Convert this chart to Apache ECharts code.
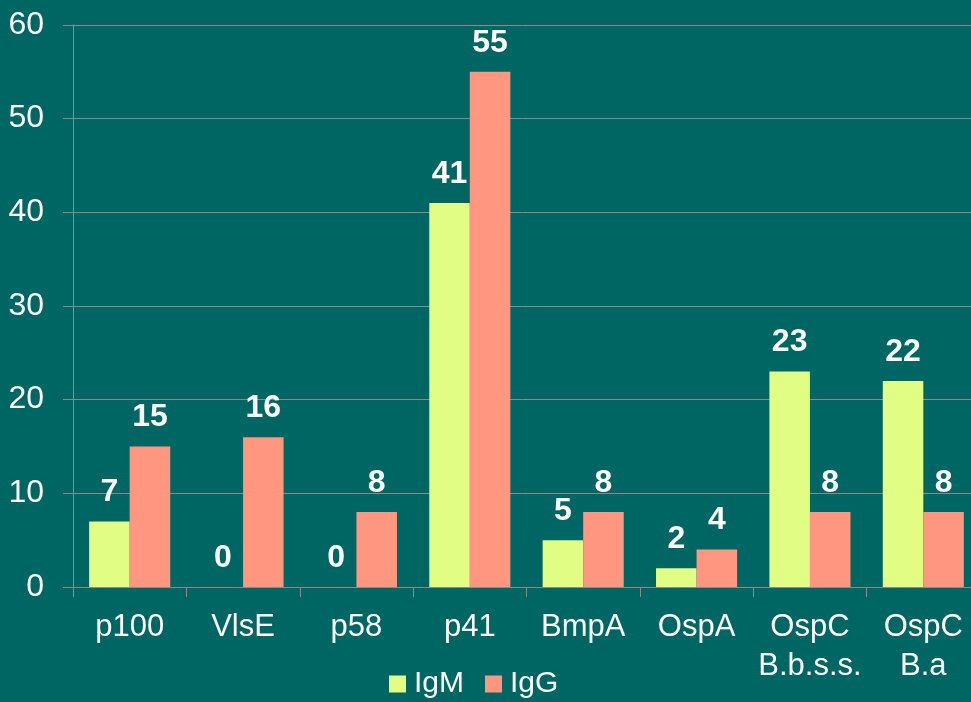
<!DOCTYPE html>
<html>
<head>
<meta charset="utf-8">
<script src="https://cdn.jsdelivr.net/npm/echarts@6/dist/echarts.min.js"></script>
<style>
html,body{margin:0;padding:0;background:#006663;}
#chart{width:971px;height:702px;}
</style>
</head>
<body>
<div id="chart"></div>
<script>
const categories = ['p100', 'VlsE', 'p58', 'p41', 'BmpA', 'OspA', 'OspC\nB.b.s.s.', 'OspC\nB.a'];
const igm = [7, 0, 0, 41, 5, 2, 23, 22];
const igg = [15, 16, 8, 55, 8, 4, 8, 8];
const yTicks = { min: 0, max: 60, interval: 10 };

const FONT = "'Liberation Sans', Arial, sans-serif";
const chart = echarts.init(document.getElementById('chart'), null, { renderer: 'canvas' });

const labelStyle = {
  show: true,
  position: 'top',
  distance: 13,
  color: '#ffffff',
  fontSize: 32,
  fontWeight: 'bold',
  fontFamily: FONT
};

chart.setOption({
  backgroundColor: '#006663',
  animation: false,
  grid: { left: 73, top: 25, height: 562, width: 907, containLabel: false, outerBoundsMode: 'none' },
  legend: {
    data: ['IgM', 'IgG'],
    left: 389,
    top: 669,
    padding: 0,
    itemWidth: 17,
    itemHeight: 17,
    itemGap: 21,
    icon: 'rect',
    textStyle: { color: '#ffffff', fontSize: 30, fontFamily: FONT, padding: [0, 0, 0, 3] }
  },
  xAxis: {
    type: 'category',
    data: categories,
    axisLine: { show: true, lineStyle: { color: '#8a8a8a', width: 1 } },
    axisTick: { show: true, length: 10, lineStyle: { color: '#8a8a8a' } },
    axisLabel: { color: '#ffffff', fontSize: 31, fontFamily: FONT, lineHeight: 39, margin: 21, interval: 0 },
    splitLine: { show: false }
  },
  yAxis: {
    type: 'value',
    min: yTicks.min,
    max: yTicks.max,
    interval: yTicks.interval,
    axisLine: { show: true, lineStyle: { color: '#8a8a8a', width: 1 } },
    axisTick: { show: true, length: 10, lineStyle: { color: '#8a8a8a' } },
    axisLabel: { color: '#ffffff', fontSize: 32, fontFamily: FONT, margin: 29 },
    splitLine: { show: true, lineStyle: { color: '#8a8a8a', width: 1 } }
  },
  series: [
    {
      name: 'IgM',
      type: 'bar',
      data: igm,
      barGap: '0%',
      barCategoryGap: '28.5%',
      itemStyle: { color: '#E1FD83' },
      label: labelStyle
    },
    {
      name: 'IgG',
      type: 'bar',
      data: igg,
      barGap: '0%',
      barCategoryGap: '28.5%',
      itemStyle: { color: '#FE9680' },
      label: labelStyle
    }
  ]
});
</script>
</body>
</html>
